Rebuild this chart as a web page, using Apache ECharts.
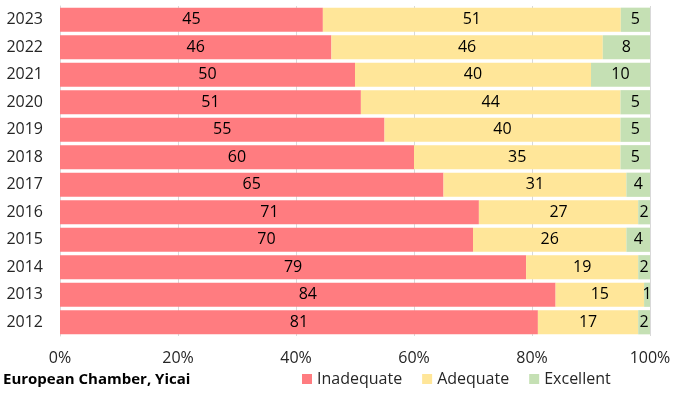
<!DOCTYPE html>
<html>
<head>
<meta charset="utf-8">
<script src="https://cdn.jsdelivr.net/npm/echarts@6/dist/echarts.min.js"></script>
<style>html,body{margin:0;padding:0;background:#fff}#c{width:675px;height:393px}</style>
</head>
<body>
<div id="c"></div>
<script>
const years = ['2012','2013','2014','2015','2016','2017','2018','2019','2020','2021','2022','2023'];
const inadequate = [81,84,79,70,71,65,60,55,51,50,46,45];
const adequate   = [17,15,19,26,27,31,35,40,44,40,46,51];
const excellent  = [2,1,2,4,2,4,5,5,5,10,8,5];
const xTicks = ['0%','20%','40%','60%','80%','100%'];
const seriesNames = ['Inadequate','Adequate','Excellent'];
const colors = ['#FF7C80','#FFE699','#C5E0B4'];
const FONT = 'Open Sans';

const totals = years.map((_, i) => inadequate[i] + adequate[i] + excellent[i]);
const toData = arr => arr.map((v, i) => ({ value: v / totals[i] * 100, raw: v }));
const raw = [inadequate, adequate, excellent];

const chart = echarts.init(document.getElementById('c'), null, { renderer: 'canvas' });
chart.setOption({
  animation: false,
  textStyle: { fontFamily: FONT },
  grid: { left: 60, right: 25, top: 6, bottom: 57, containLabel: false },
  xAxis: {
    type: 'value', min: 0, max: 100, interval: 20,
    axisLine: { show: false }, axisTick: { show: false },
    splitLine: { show: true, lineStyle: { color: '#D9D9D9', width: 1 } },
    axisLabel: { margin: 14, fontSize: 16, color: '#262626', fontFamily: FONT,
      formatter: v => xTicks[Math.round(v / 20)] }
  },
  yAxis: {
    type: 'category', data: years,
    axisLine: { show: true, lineStyle: { color: '#D9D9D9' } },
    axisTick: { show: false },
    axisLabel: { margin: 17, fontSize: 16, color: '#262626', fontFamily: FONT }
  },
  legend: {
    left: 297, top: 366, itemWidth: 10, itemHeight: 10, icon: 'rect', itemGap: 20,
    textStyle: { fontSize: 16, color: '#262626', fontFamily: FONT },
    data: seriesNames
  },
  title: {
    text: 'European Chamber, Yicai', left: -2, top: 367,
    textStyle: { fontSize: 15, fontWeight: 'bold', color: '#000', fontFamily: FONT }
  },
  series: raw.map((arr, k) => ({
    name: seriesNames[k], type: 'bar', stack: 'total',
    barCategoryGap: '12%',
    itemStyle: { color: colors[k] },
    label: { show: true, position: 'inside', fontSize: 16, color: '#000', fontFamily: FONT,
      formatter: p => p.data.raw },
    data: toData(arr)
  }))
});
</script>
</body>
</html>
